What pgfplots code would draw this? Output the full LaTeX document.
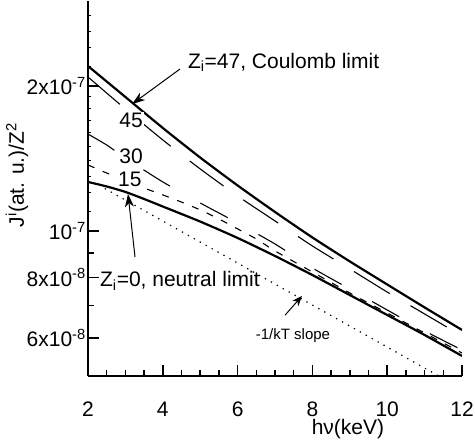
\documentclass[border=0pt]{standalone}
\usepackage{fontspec}
\setmainfont{Liberation Sans}
\usepackage{pgfplots}
\pgfplotsset{compat=1.18}
\usetikzlibrary{arrows.meta}
\begin{document}
\fontsize{21bp}{25bp}\selectfont
\begin{tikzpicture}[x=1bp,y=1bp]
\useasboundingbox (-88,-68) rectangle (387,376);
\begin{axis}[
  at={(0,0)}, anchor=south west, scale only axis,
  width=374bp, height=375bp,
  xmin=2, xmax=12, ymode=log, ymin=5e-8, ymax=3e-7,
  axis x line*=bottom, axis y line*=left,
  axis line style={-, line width=2bp},
  tick align=inside,
  xtick={2,4,6,8,10,12}, xticklabels={2,4,6,8,10,12},
  minor x tick num=3,
  ytick={6e-8,8e-8,1e-7,2e-7},
  yticklabels={\mbox{6x10\textsuperscript{-8}},\mbox{8x10\textsuperscript{-8}},\mbox{10\textsuperscript{-7}},\mbox{2x10\textsuperscript{-7}}},
  minor ytick={7e-8,9e-8},
  extra y ticks={1.1e-7,1.2e-7,1.3e-7,1.4e-7,1.5e-7,1.6e-7,1.7e-7,1.8e-7,1.9e-7,2.2e-7,2.4e-7,2.6e-7,2.8e-7},
  extra y tick labels={},
  extra y tick style={major tick length=3bp, tick style={line width=0.8bp}},
  major tick length=11bp, minor tick length=6bp,
  every tick/.style={black, line width=1.5bp},
  /pgf/number format/assume math mode=true,
  xticklabel style={anchor=center, yshift=-33bp},
  yticklabel style={anchor=east, inner sep=2bp},
  xlabel={hν(keV)},
  xlabel style={at={(rel axis cs:0.695,0)}, anchor=center, yshift=-53bp},
  ylabel={J\textsuperscript{i}(at. u.)/Z\textsuperscript{2}},
  ylabel style={at={(rel axis cs:-0.19,0.536)}, anchor=center},
]
% Z_i = 47 Coulomb limit
\addplot[black, line width=2.2bp, smooth, tension=0.4] coordinates {
 (2,2.199e-7)(3,1.897e-7)(4,1.636e-7)(5,1.420e-7)(6,1.243e-7)(7,1.095e-7)
 (8,0.9694e-7)(9,0.8646e-7)(10,0.7745e-7)(11,0.6940e-7)(12,0.6232e-7)};
% Z_i = 45
\addplot[black, line width=1.1bp, dash pattern=on 42bp off 24bp, smooth, tension=0.4] coordinates {
 (2,2.087e-7)(3,1.791e-7)(4,1.545e-7)(5,1.345e-7)(6,1.182e-7)(7,1.049e-7)
 (8,0.9308e-7)(9,0.8341e-7)(10,0.7470e-7)(11,0.6727e-7)(12,0.6055e-7)};
% Z_i = 30
\addplot[black, line width=1.1bp, dash pattern=on 31bp off 35bp, smooth, tension=0.4] coordinates {
 (2,1.589e-7)(2.5,1.508e-7)(3,1.417e-7)(4,1.264e-7)(5,1.143e-7)(6,1.039e-7)
 (7,0.9398e-7)(8,0.8380e-7)(9,0.7579e-7)(10,0.6856e-7)(11,0.6203e-7)(12,0.5664e-7)};
% Z_i = 15
\addplot[black, line width=1.1bp, dash pattern=on 7bp off 9bp, smooth, tension=0.4] coordinates {
 (2,1.371e-7)(2.5,1.319e-7)(3,1.276e-7)(3.5,1.228e-7)(4,1.188e-7)(4.5,1.148e-7)
 (5,1.106e-7)(5.5,1.059e-7)(6,1.010e-7)(6.5,0.9625e-7)(7,0.9090e-7)(8,0.8220e-7)
 (9,0.7436e-7)(10,0.6759e-7)(11,0.6143e-7)(12,0.5583e-7)};
% Z_i = 0 neutral limit
\addplot[black, line width=2.2bp, smooth, tension=0.4] coordinates {
 (2,1.264e-7)(2.5,1.237e-7)(3,1.205e-7)(3.5,1.165e-7)(4,1.124e-7)(5,1.046e-7)
 (6,0.9671e-7)(7,0.8874e-7)(8,0.8101e-7)(9,0.7364e-7)(10,0.6694e-7)(11,0.6084e-7)(12,0.5504e-7)};
% -1/kT slope
\addplot[black, line width=1.2bp, dash pattern=on 1.3bp off 5.5bp] coordinates {
 (2.45,1.225e-7)(11.4,4.99e-8)};
% labels
\node[fill=white, inner sep=1bp] at (axis cs:3.15,1.696e-7) {45};
\node[fill=white, inner sep=1bp] at (axis cs:3.15,1.431e-7) {30};
\node[fill=white, inner sep=1bp] at (axis cs:3.12,1.282e-7) {15};
\node[anchor=west, inner sep=0pt] at (axis cs:4.67,2.24e-7) {Z\textsubscript{i}=47, Coulomb limit};
\node[anchor=west, inner sep=0pt] at (axis cs:2.32,7.87e-8) {Z\textsubscript{i}=0, neutral limit};
\node[inner sep=0pt, font=\fontsize{15bp}{17bp}\selectfont] at (axis cs:7.48,6.055e-8) {-1/kT slope};
% arrows
\draw[line width=1bp, -{Stealth[length=13bp, width=9bp, inset=4bp]}] (axis cs:4.46,2.168e-7) -- (axis cs:3.18,1.834e-7);
\draw[line width=1bp, -{Stealth[length=13bp, width=9bp, inset=4bp]}] (axis cs:3.257,8.83e-8) -- (axis cs:3.07,1.193e-7);
\draw[line width=1bp, -{Stealth[length=10bp, width=8bp, inset=3bp]}] (axis cs:7.27,6.69e-8) -- (axis cs:7.72,7.33e-8);
\end{axis}
\end{tikzpicture}
\end{document}
